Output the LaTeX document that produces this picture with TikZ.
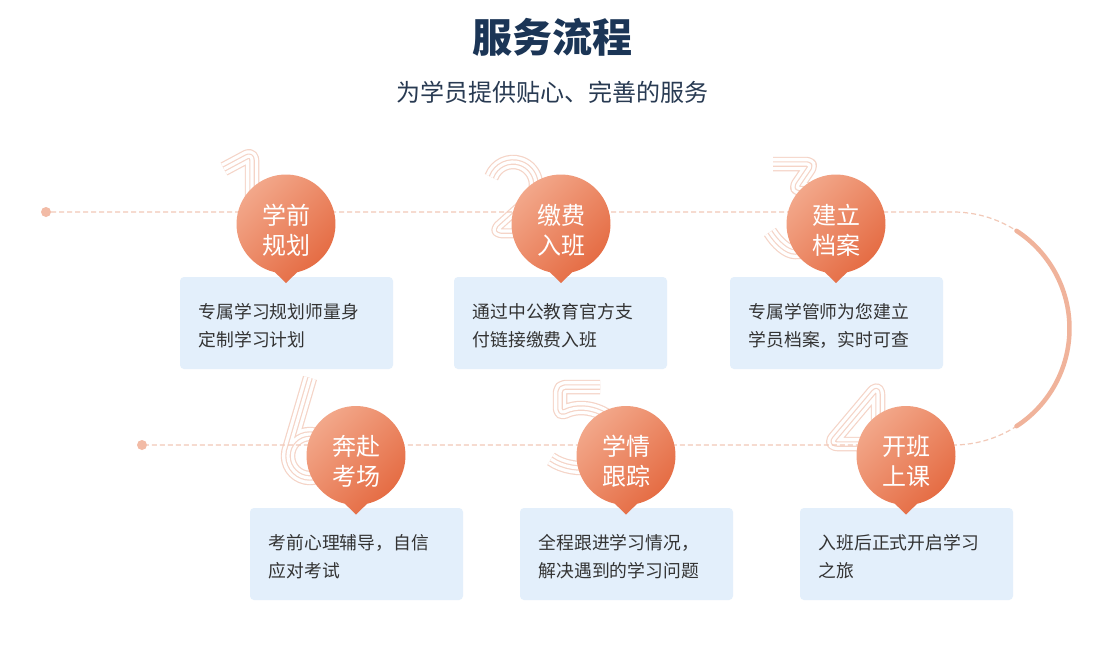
\documentclass[tikz,border=0pt]{standalone}
\usepackage{fontspec}
\setmainfont{Noto Sans CJK SC}
\usetikzlibrary{calc}
\definecolor{titlec}{HTML}{1B3556}
\definecolor{subc}{HTML}{283A52}
\definecolor{textc}{HTML}{333333}
\definecolor{boxc}{HTML}{E3EFFB}
\definecolor{dashc}{HTML}{F2C9B8}
\definecolor{dotc}{HTML}{F2BBA6}
\definecolor{arcc}{HTML}{F0B39B}
\definecolor{digitc}{HTML}{F5D4C7}
\definecolor{pinlight}{HTML}{F3AA8D}
\definecolor{pindark}{HTML}{E4683F}
\tikzset{
  dashline/.style={dashc, line width=1.2pt, dash pattern=on 5pt off 3pt},
  arcline/.style={arcc, line width=4.5pt, line cap=round},
  dotstyle/.style={circle, fill=dotc, minimum size=10pt, inner sep=0pt},
  boxstyle/.style={fill=boxc, rounded corners=4pt, minimum width=213pt, minimum height=92pt, inner sep=0pt},
  boxtext/.style={text=textc, font=\fontsize{17.8pt}{28pt}\selectfont, align=left, anchor=west, inner sep=0pt},
  pinshade/.style={top color=pinlight, bottom color=pindark, shading angle=45},
  pintext/.style={text=white, font=\fontsize{24pt}{30pt}\selectfont, align=center, inner sep=0pt},
  digitpath/.style={line join=round, line cap=butt}
}
\newcommand\digitlines[1]{%
  \draw[digitpath, digitc, line width=14.5pt] #1;
  \draw[digitpath, white, line width=12.1pt] #1;
  \draw[digitpath, digitc, line width=5.5pt] #1;
  \draw[digitpath, white, line width=3.1pt] #1;}
\newcommand\pinstep[5]{%
  \shade[pinshade] (#2,#3) ++(103:49.5) arc[start angle=103, end angle=437, radius=49.5] -- (#2,#3+59) -- cycle;
  \node[pintext] (#1) at (#2,#3+6) {#4\\#5};}
\begin{document}
\begin{tikzpicture}[x=1pt, y=-1pt]
\fill[white] (0,0) rectangle (1117,659);
\useasboundingbox (0,0) rectangle (1117,659);

% title
\node[text=titlec, font=\fontsize{40pt}{42pt}\selectfont\bfseries, inner sep=0pt] (title) at (552,37) {服务流程};
\node[text=subc, font=\fontsize{24pt}{26pt}\selectfont, inner sep=0pt] (subtitle) at (552,92) {为学员提供贴心、完善的服务};

% digits
\digitlines{[rounded corners=6pt] (224,169) -- (252,154) -- (252,250)}
\digitlines{(491.4,177.1) arc[start angle=200, end angle=400, radius=23] [rounded corners=5pt] -- (496,231) -- (550,231)}
\digitlines{[rounded corners=5pt] (773,164) -- (812,164) -- (795,189) .. controls (830,186) and (840,250) .. (800,252) .. controls (787,252) and (777,243) .. (770,232)}
\digitlines{[rounded corners=7pt] (878,472) -- (878,387) -- (830,444) -- (897,444)}
\digitlines{[rounded corners=5pt] (600,387) -- (560,387) -- (560,414) .. controls (588,400) and (620,418) .. (620,440) .. controls (620,468) and (575,476) .. (551,459)}
\digitlines{(310,378) -- (288.3,452) (310,456) circle[radius=22]}

% route
\node[dotstyle] (d1) at (46,212) {};
\node[dotstyle] (d2) at (142,445) {};
\coordinate (turnA) at (953,212);
\draw[dashline] (d1.east) -- (turnA) arc[start angle=270, end angle=450, radius=116.5] -- (d2.east);
\draw[arcline] (953,328.5) ++(-57:116.5) arc[start angle=-57, end angle=57, radius=116.5];

% boxes
\node[boxstyle] (b1) at (286.5,323) {};
\node[boxstyle] (b2) at (560.5,323) {};
\node[boxstyle] (b3) at (836.5,323) {};
\node[boxstyle] (b6) at (356.5,554) {};
\node[boxstyle] (b5) at (626.5,554) {};
\node[boxstyle] (b4) at (906.5,554) {};

\node[boxtext] (t1) at (198.5,326) {专属学习规划师量身\\定制学习计划};
\node[boxtext] (t2) at (472.5,326) {通过中公教育官方支\\付链接缴费入班};
\node[boxtext] (t3) at (748.5,326) {专属学管师为您建立\\学员档案，实时可查};
\node[boxtext] (t6) at (268.5,557) {考前心理辅导，自信\\应对考试};
\node[boxtext] (t5) at (538.5,557) {全程跟进学习情况，\\解决遇到的学习问题};
\node[boxtext] (t4) at (818.5,557) {入班后正式开启学习\\之旅};

% pins
\pinstep{p1}{286}{224}{学前}{规划}
\pinstep{p2}{561}{224}{缴费}{入班}
\pinstep{p3}{836}{224}{建立}{档案}
\pinstep{p6}{356}{455.5}{奔赴}{考场}
\pinstep{p5}{626}{455.5}{学情}{跟踪}
\pinstep{p4}{906}{455.5}{开班}{上课}
\end{tikzpicture}
\end{document}
